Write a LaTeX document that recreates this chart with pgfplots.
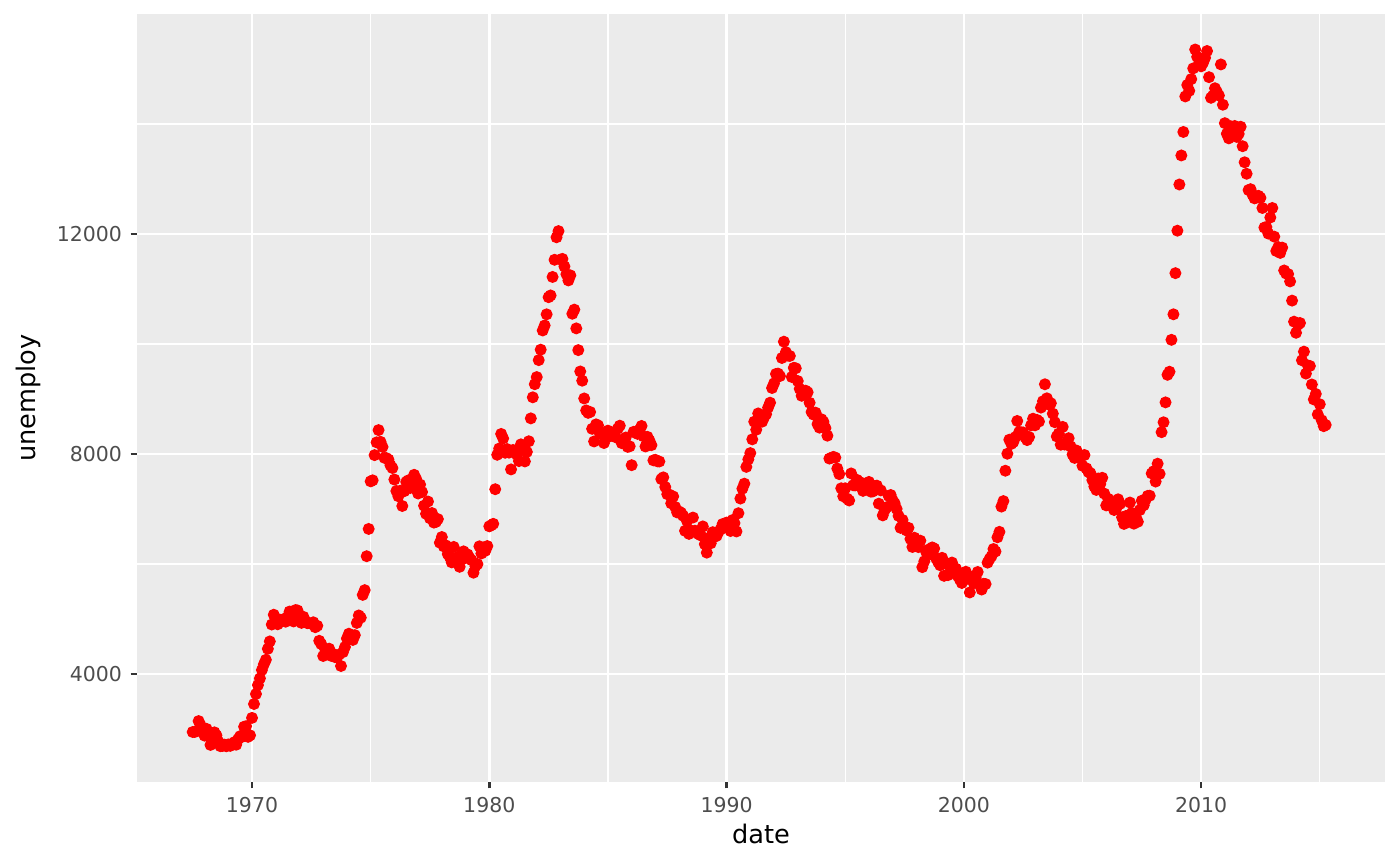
\documentclass[border=0pt]{standalone}
\usepackage{fontspec}
\setmainfont{DejaVu Sans}
\usepackage{pgfplots}
\usepackage{pgfplotstable}
\pgfplotsset{compat=1.18}
\definecolor{panel}{HTML}{EBEBEB}
\definecolor{tickgrey}{HTML}{333333}
\definecolor{labelgrey}{HTML}{4D4D4D}
\pgfplotstableread{
y m u
1967 6 2944
1967 7 2945
1967 8 2958
1967 9 3143
1967 10 3066
1967 11 3018
1968 0 2878
1968 1 3001
1968 2 2877
1968 3 2709
1968 4 2740
1968 5 2938
1968 6 2883
1968 7 2768
1968 8 2686
1968 9 2689
1968 10 2715
1968 11 2685
1969 0 2718
1969 1 2692
1969 2 2712
1969 3 2758
1969 4 2713
1969 5 2816
1969 6 2868
1969 7 2856
1969 8 3040
1969 9 3049
1969 10 2856
1969 11 2884
1970 0 3201
1970 1 3453
1970 2 3635
1970 3 3797
1970 4 3919
1970 5 4071
1970 6 4175
1970 7 4256
1970 8 4456
1970 9 4591
1970 10 4898
1970 11 5076
1971 0 4986
1971 1 4903
1971 2 4987
1971 3 4959
1971 4 4996
1971 5 4949
1971 6 5035
1971 7 5134
1971 8 5042
1971 9 4954
1971 10 5161
1971 11 5154
1972 0 5019
1972 1 4928
1972 2 5038
1972 3 4959
1972 4 4922
1972 5 4923
1972 6 4913
1972 7 4939
1972 8 4849
1972 9 4875
1972 10 4602
1972 11 4543
1973 0 4326
1973 1 4452
1973 2 4394
1973 3 4459
1973 4 4329
1973 5 4363
1973 6 4305
1973 7 4305
1973 8 4350
1973 9 4144
1973 10 4396
1973 11 4489
1974 0 4644
1974 1 4731
1974 2 4634
1974 3 4618
1974 4 4705
1974 5 4927
1974 6 5063
1974 7 5022
1974 8 5437
1974 9 5523
1974 10 6140
1974 11 6636
1975 0 7501
1975 1 7520
1975 2 7978
1975 3 8210
1975 4 8433
1975 5 8220
1975 6 8127
1975 7 7928
1975 8 7923
1975 9 7897
1975 10 7794
1975 11 7744
1976 0 7534
1976 1 7326
1976 2 7230
1976 3 7330
1976 4 7053
1976 5 7322
1976 6 7490
1976 7 7518
1976 8 7380
1976 9 7430
1976 10 7620
1976 11 7545
1977 0 7280
1977 1 7443
1977 2 7307
1977 3 7059
1977 4 6911
1977 5 7134
1977 6 6829
1977 7 6925
1977 8 6751
1977 9 6763
1977 10 6815
1977 11 6386
1978 0 6489
1978 1 6318
1978 2 6337
1978 3 6180
1978 4 6127
1978 5 6028
1978 6 6309
1978 7 6080
1978 8 6125
1978 9 5947
1978 10 6077
1978 11 6228
1979 0 6109
1979 1 6173
1979 2 6109
1979 3 6069
1979 4 5840
1979 5 5959
1979 6 5996
1979 7 6320
1979 8 6190
1979 9 6296
1979 10 6238
1979 11 6325
1980 0 6683
1980 1 6702
1980 2 6729
1980 3 7358
1980 4 7984
1980 5 8098
1980 6 8363
1980 7 8281
1980 8 8021
1980 9 8088
1980 10 8023
1980 11 7718
1981 0 8071
1981 1 8051
1981 2 7982
1981 3 7869
1981 4 8174
1981 5 8098
1981 6 7863
1981 7 8036
1981 8 8230
1981 9 8646
1981 10 9029
1981 11 9267
1982 0 9397
1982 1 9705
1982 2 9895
1982 3 10244
1982 4 10335
1982 5 10538
1982 6 10849
1982 7 10881
1982 8 11217
1982 9 11529
1982 10 11938
1982 11 12051
1983 0 11534
1983 1 11545
1983 2 11408
1983 3 11268
1983 4 11154
1983 5 11246
1983 6 10548
1983 7 10623
1983 8 10282
1983 9 9887
1983 10 9499
1983 11 9331
1984 0 9008
1984 1 8791
1984 2 8746
1984 3 8762
1984 4 8456
1984 5 8226
1984 6 8537
1984 7 8519
1984 8 8367
1984 9 8381
1984 10 8198
1984 11 8358
1985 0 8423
1985 1 8321
1985 2 8339
1985 3 8395
1985 4 8302
1985 5 8460
1985 6 8513
1985 7 8196
1985 8 8248
1985 9 8298
1985 10 8128
1985 11 8138
1986 0 7795
1986 1 8402
1986 2 8383
1986 3 8364
1986 4 8439
1986 5 8508
1986 6 8319
1986 7 8135
1986 8 8310
1986 9 8243
1986 10 8159
1986 11 7883
1987 0 7892
1987 1 7865
1987 2 7862
1987 3 7542
1987 4 7574
1987 5 7398
1987 6 7268
1987 7 7261
1987 8 7102
1987 9 7227
1987 10 7035
1987 11 6936
1988 0 6953
1988 1 6929
1988 2 6876
1988 3 6601
1988 4 6779
1988 5 6546
1988 6 6605
1988 7 6843
1988 8 6604
1988 9 6568
1988 10 6537
1988 11 6518
1989 0 6682
1989 1 6359
1989 2 6205
1989 3 6468
1989 4 6375
1989 5 6577
1989 6 6495
1989 7 6511
1989 8 6590
1989 9 6630
1989 10 6725
1989 11 6667
1990 0 6752
1990 1 6651
1990 2 6598
1990 3 6797
1990 4 6742
1990 5 6590
1990 6 6922
1990 7 7188
1990 8 7368
1990 9 7459
1990 10 7764
1990 11 7901
1991 0 8015
1991 1 8265
1991 2 8586
1991 3 8439
1991 4 8736
1991 5 8692
1991 6 8586
1991 7 8666
1991 8 8722
1991 9 8842
1991 10 8931
1991 11 9198
1992 0 9283
1992 1 9454
1992 2 9460
1992 3 9415
1992 4 9744
1992 5 10040
1992 6 9850
1992 7 9787
1992 8 9781
1992 9 9398
1992 10 9565
1992 11 9557
1993 0 9325
1993 1 9183
1993 2 9056
1993 3 9110
1993 4 9149
1993 5 9121
1993 6 8930
1993 7 8763
1993 8 8714
1993 9 8750
1993 10 8542
1993 11 8477
1994 0 8630
1994 1 8583
1994 2 8470
1994 3 8331
1994 4 7915
1994 5 7927
1994 6 7946
1994 7 7933
1994 8 7734
1994 9 7632
1994 10 7375
1994 11 7230
1995 0 7375
1995 1 7187
1995 2 7153
1995 3 7645
1995 4 7430
1995 5 7427
1995 6 7527
1995 7 7484
1995 8 7478
1995 9 7328
1995 10 7426
1995 11 7423
1996 0 7491
1996 1 7313
1996 2 7318
1996 3 7415
1996 4 7423
1996 5 7095
1996 6 7337
1996 7 6882
1996 8 6979
1996 9 7031
1996 10 7236
1996 11 7253
1997 0 7158
1997 1 7102
1997 2 7000
1997 3 6873
1997 4 6655
1997 5 6799
1997 6 6655
1997 7 6608
1997 8 6656
1997 9 6454
1997 10 6308
1997 11 6476
1998 0 6368
1998 1 6306
1998 2 6422
1998 3 5941
1998 4 6047
1998 5 6212
1998 6 6259
1998 7 6179
1998 8 6300
1998 9 6280
1998 10 6100
1998 11 6032
1999 0 5976
1999 1 6111
1999 2 5783
1999 3 6004
1999 4 5796
1999 5 5951
1999 6 6025
1999 7 5838
1999 8 5915
1999 9 5778
1999 10 5716
1999 11 5653
2000 0 5708
2000 1 5858
2000 2 5733
2000 3 5481
2000 4 5758
2000 5 5651
2000 6 5747
2000 7 5853
2000 8 5625
2000 9 5534
2000 10 5639
2000 11 5634
2001 0 6023
2001 1 6089
2001 2 6141
2001 3 6271
2001 4 6226
2001 5 6484
2001 6 6583
2001 7 7042
2001 8 7142
2001 9 7694
2001 10 8003
2001 11 8258
2002 0 8182
2002 1 8215
2002 2 8304
2002 3 8599
2002 4 8399
2002 5 8393
2002 6 8390
2002 7 8304
2002 8 8251
2002 9 8307
2002 10 8520
2002 11 8640
2003 0 8520
2003 1 8618
2003 2 8588
2003 3 8842
2003 4 8957
2003 5 9266
2003 6 9011
2003 7 8896
2003 8 8921
2003 9 8732
2003 10 8576
2003 11 8317
2004 0 8370
2004 1 8167
2004 2 8491
2004 3 8170
2004 4 8212
2004 5 8286
2004 6 8136
2004 7 7990
2004 8 7927
2004 9 8061
2004 10 7932
2004 11 7934
2005 0 7784
2005 1 7980
2005 2 7737
2005 3 7672
2005 4 7651
2005 5 7524
2005 6 7406
2005 7 7345
2005 8 7553
2005 9 7453
2005 10 7566
2005 11 7279
2006 0 7064
2006 1 7184
2006 2 7072
2006 3 7120
2006 4 6980
2006 5 7001
2006 6 7175
2006 7 7091
2006 8 6847
2006 9 6727
2006 10 6872
2006 11 6762
2007 0 7116
2007 1 6927
2007 2 6731
2007 3 6850
2007 4 6766
2007 5 6979
2007 6 7149
2007 7 7067
2007 8 7170
2007 9 7237
2007 10 7240
2007 11 7645
2008 0 7685
2008 1 7497
2008 2 7822
2008 3 7637
2008 4 8395
2008 5 8575
2008 6 8937
2008 7 9438
2008 8 9494
2008 9 10074
2008 10 10538
2008 11 11286
2009 0 12058
2009 1 12898
2009 2 13426
2009 3 13853
2009 4 14499
2009 5 14707
2009 6 14601
2009 7 14814
2009 8 15009
2009 9 15352
2009 10 15219
2009 11 15098
2010 0 15046
2010 1 15113
2010 2 15202
2010 3 15325
2010 4 14849
2010 5 14474
2010 6 14512
2010 7 14648
2010 8 14579
2010 9 14516
2010 10 15081
2010 11 14348
2011 0 14013
2011 1 13820
2011 2 13737
2011 3 13957
2011 4 13855
2011 5 13962
2011 6 13763
2011 7 13818
2011 8 13948
2011 9 13594
2011 10 13302
2011 11 13093
2012 0 12797
2012 1 12813
2012 2 12713
2012 3 12646
2012 4 12660
2012 5 12692
2012 6 12656
2012 7 12471
2012 8 12115
2012 9 12124
2012 10 12005
2012 11 12298
2013 0 12471
2013 1 11950
2013 2 11689
2013 3 11760
2013 4 11654
2013 5 11751
2013 6 11335
2013 7 11279
2013 8 11270
2013 9 11136
2013 10 10787
2013 11 10404
2014 0 10202
2014 1 10349
2014 2 10380
2014 3 9702
2014 4 9859
2014 5 9460
2014 6 9608
2014 7 9599
2014 8 9262
2014 9 8990
2014 10 9090
2014 11 8717
2015 0 8903
2015 1 8610
2015 2 8504
2015 3 8526
}\econ
\begin{document}
\begin{tikzpicture}
\path[use as bounding box] (-49.3bp,-30.2bp) rectangle (454.7bp,281.5bp);
\begin{axis}[
  at={(0,0)}, anchor=south west,
  scale only axis, width=449.3bp, height=276.5bp,
  xmin=1965.15, xmax=2017.75, ymin=2036, ymax=16000,
  axis background/.style={fill=panel},
  axis line style={draw=none},
  xtick={1970,1980,...,2010}, minor xtick={1965,1975,...,2015},
  ytick={4000,8000,12000}, minor ytick={2000,6000,10000,14000},
  grid=both,
  major grid style={white, line width=0.9bp},
  minor grid style={white, line width=0.45bp},
  tick align=outside, major tick length=2.3bp, minor tick length=0pt,
  tick style={color=tickgrey, line width=0.9bp},
  xtick pos=bottom, ytick pos=left,
  scaled ticks=false,
  /pgf/number format/assume math mode=true,
  /pgf/number format/1000 sep={},
  ticklabel style={font=\fontsize{7.4}{8}\selectfont, text=labelgrey},
  xticklabel style={inner sep=0pt, anchor=north, yshift=-2.9bp},
  yticklabel style={inner sep=0pt, anchor=east, xshift=-2.9bp},
  xlabel={date}, ylabel={unemploy},
  xlabel style={font=\fontsize{9.25}{11}\selectfont, at={(axis description cs:0.5,0)}, anchor=base, inner sep=0pt, yshift=-22bp},
  ylabel style={font=\fontsize{9.25}{11}\selectfont, at={(axis description cs:-0.0872,0.5)}, anchor=center, inner sep=0pt},
]
\addplot[only marks, mark=*, mark size=1.95bp, color=red, fill=red]
  table[x expr=\thisrow{y}+\thisrow{m}/12, y=u] {\econ};
\end{axis}
\end{tikzpicture}
\end{document}
